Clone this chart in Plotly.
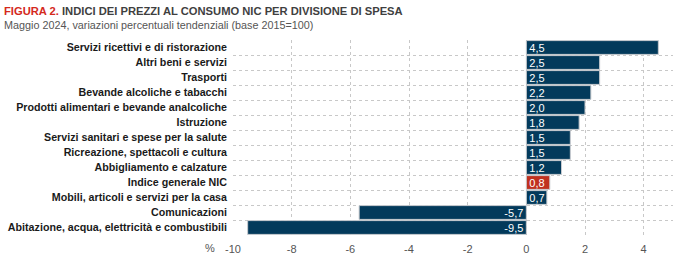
import plotly.graph_objects as go

categories = [
    "Servizi ricettivi e di ristorazione",
    "Altri beni e servizi",
    "Trasporti",
    "Bevande alcoliche e tabacchi",
    "Prodotti alimentari e bevande analcoliche",
    "Istruzione",
    "Servizi sanitari e spese per la salute",
    "Ricreazione, spettacoli e cultura",
    "Abbigliamento e calzature",
    "Indice generale NIC",
    "Mobili, articoli e servizi per la casa",
    "Comunicazioni",
    "Abitazione, acqua, elettricità e combustibili",
]
values = [4.5, 2.5, 2.5, 2.2, 2.0, 1.8, 1.5, 1.5, 1.2, 0.8, 0.7, -5.7, -9.5]
x_ticks = [-10, -8, -6, -4, -2, 0, 2, 4]

NAVY = "#033a5b"
RED = "#c0311f"
colors = [RED if c == "Indice generale NIC" else NAVY for c in categories]
labels = [f"{v:.1f}".replace(".", ",") for v in values]

FONT = "Liberation Sans, Arial, sans-serif"

W, H = 685, 256
ml, mr, mt, mb = 233, 12, 40, 21
pw, ph = W - ml - mr, H - mt - mb

def px(x, y):
    return (x - ml) / pw, 1 - (y - mt) / ph

fig = go.Figure()
fig.add_trace(go.Bar(
    x=values, y=categories, orientation="h",
    marker=dict(color=colors, line=dict(color="#c9ccd0", width=1)),
    text=labels, textposition="inside", insidetextanchor="start",
    constraintext="none", textangle=0,
    textfont=dict(color="white", size=11, family=FONT),
    width=0.92, cliponaxis=False,
))
fig.add_trace(go.Scatter(x=[None], y=[None], yaxis="y2", showlegend=False))

n = len(categories)
t1 = px(2, 11)
t2 = px(2, 25)
t3 = px(210, 248)
fig.update_layout(
    width=W, height=H,
    margin=dict(l=ml, r=mr, t=mt, b=mb),
    paper_bgcolor="white", plot_bgcolor="white",
    showlegend=False,
    font=dict(family=FONT, color="#222"),
    xaxis=dict(
        range=[-10, 5], tickvals=x_ticks, ticktext=[str(t) for t in x_ticks],
        showgrid=True, gridcolor="#c8c8c8", griddash="dot", gridwidth=1,
        zeroline=False, showline=False, ticks="", automargin=False,
        ticklabelstandoff=6,
        tickfont=dict(size=11, color="#555", family=FONT),
    ),
    yaxis=dict(
        categoryorder="array", categoryarray=categories, autorange="reversed",
        tickvals=categories, ticktext=[f"<b>{c}</b>" for c in categories],
        showgrid=False, ticks="", showline=False, zeroline=False, automargin=False,
        tickfont=dict(size=10.7, color="#1a1a1a", family=FONT),
        ticklabelstandoff=5,
    ),
    yaxis2=dict(
        overlaying="y", range=[n - 0.5, -0.5], automargin=False,
        tickvals=[i - 0.5 for i in range(n + 1)],
        showgrid=True, gridcolor="#c8c8c8", griddash="dot", gridwidth=1,
        showticklabels=False, ticks="", zeroline=False, showline=False,
    ),
    annotations=[
        dict(text="<b><span style='color:#d4291c'>FIGURA 2.</span> INDICI DEI PREZZI AL CONSUMO NIC PER DIVISIONE DI SPESA</b>",
             x=t1[0], y=t1[1], xref="paper", yref="paper", xanchor="left", yanchor="middle",
             showarrow=False, font=dict(size=11.2, color="#3f3f3f", family=FONT)),
        dict(text="Maggio 2024, variazioni percentuali tendenziali (base 2015=100)",
             x=t2[0], y=t2[1], xref="paper", yref="paper", xanchor="left", yanchor="middle",
             showarrow=False, font=dict(size=10.8, color="#555", family=FONT)),
        dict(text="%", x=t3[0], y=t3[1], xref="paper", yref="paper", xanchor="center",
             yanchor="middle", showarrow=False,
             font=dict(size=11, color="#555", family=FONT)),
    ],
)

fig.write_html("out.html")
